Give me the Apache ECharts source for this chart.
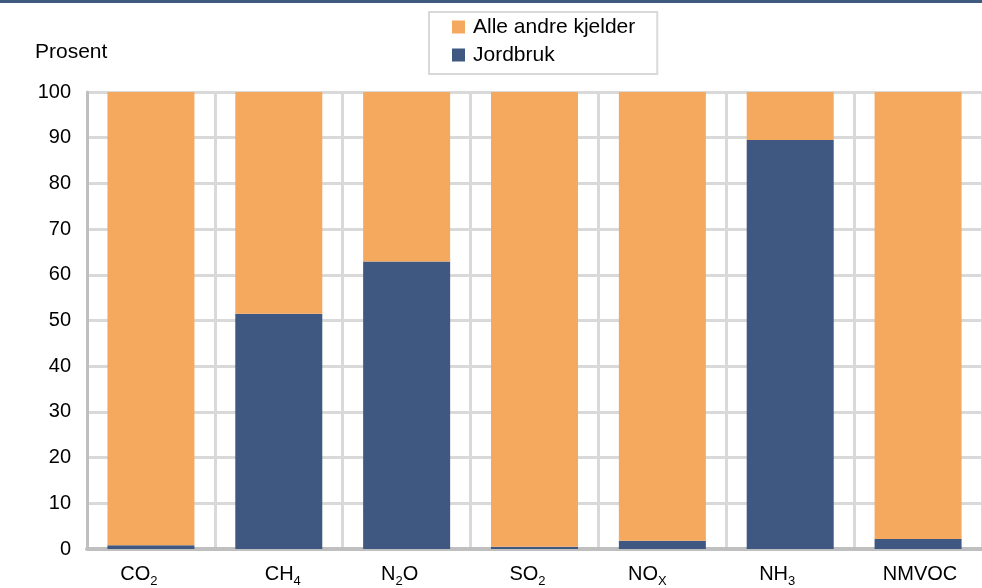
<!DOCTYPE html>
<html>
<head>
<meta charset="utf-8">
<script src="https://cdn.jsdelivr.net/npm/echarts@6/dist/echarts.min.js"></script>
<style>
html,body{margin:0;padding:0;background:#fff;}
#c{width:982px;height:588px;}
</style>
</head>
<body>
<div id="c"></div>
<script>
// ---- data ----
const categories = ['CO_2', 'CH_4', 'N_2O', 'SO_2', 'NO_X', 'NH_3', 'NMVOC'];
const jordbruk = [0.8, 51.5, 62.9, 0.5, 1.8, 89.5, 2.2];
const andreKilder = [99.2, 48.5, 37.1, 99.5, 98.2, 10.5, 97.8];
const seriesNames = ['Alle andre kjelder', 'Jordbruk'];
const yTicks = [0, 100, 10];
const yTitle = 'Prosent';

// ---- styling ----
const FONT = '"Liberation Sans", Arial, sans-serif';
const ORANGE = '#F5A95E';
const BLUE = '#3E5881';
const labelShift = [-12, 4, -7, -7, -15, -13, 2];

const rich = {
  b: { fontSize: 20, fontFamily: FONT, color: '#000' },
  s: { fontSize: 13, fontFamily: FONT, color: '#000', padding: [14, 0, 0, 0] },
  h: { width: 0, height: 27 }
};
labelShift.forEach((d, i) => { rich['p' + i] = { width: Math.abs(d) * 2, height: 1 }; });

function fmt(value, idx) {
  const parts = value.split(/_(.)/);
  let s = '{h|}';
  parts.forEach((p, k) => {
    if (!p) return;
    s += (k % 2 === 1) ? '{s|' + p + '}' : '{b|' + p + '}';
  });
  const d = labelShift[idx] || 0;
  if (d < 0) s = s + '{p' + idx + '|}';
  else if (d > 0) s = '{p' + idx + '|}' + s;
  return s;
}

const chart = echarts.init(document.getElementById('c'), null, { renderer: 'canvas' });
chart.setOption({
  animation: false,
  backgroundColor: '#fff',
  title: {
    text: yTitle, left: 30, top: 37,
    textStyle: { fontFamily: FONT, fontSize: 21, fontWeight: 'normal', color: '#000' }
  },
  graphic: [{ type: 'rect', shape: { x: 0, y: 0, width: 982, height: 3 }, style: { fill: '#3E5A80' }, z: 100 }],
  legend: {
    orient: 'vertical', left: 429, top: 12,
    data: seriesNames,
    itemWidth: 13, itemHeight: 13, itemGap: 6,
    icon: 'rect',
    borderColor: '#d9d9d9', borderWidth: 2,
    padding: [4, 22, 8, 23],
    textStyle: { fontFamily: FONT, fontSize: 21, color: '#000', lineHeight: 22, padding: [0, 0, 0, 3] }
  },
  grid: { left: 87, right: -3, top: 92, bottom: 38, containLabel: false },
  xAxis: {
    type: 'category', data: categories,
    axisLine: { lineStyle: { color: '#bfbfbf', width: 4 } },
    axisTick: { show: false },
    splitLine: { show: true, interval: 0, lineStyle: { color: '#d9d9d9', width: 3 } },
    axisLabel: { interval: 0, margin: 12, formatter: fmt, rich: rich }
  },
  yAxis: {
    type: 'value', min: yTicks[0], max: yTicks[1], interval: yTicks[2],
    axisLine: { show: true, lineStyle: { color: '#bfbfbf', width: 3 } },
    axisTick: { show: false },
    splitLine: { lineStyle: { color: '#d9d9d9', width: 3 } },
    axisLabel: { fontFamily: FONT, fontSize: 20, color: '#000', margin: 16 }
  },
  series: [
    { name: seriesNames[1], type: 'bar', stack: 'a', data: jordbruk, barWidth: 87, itemStyle: { color: BLUE } },
    { name: seriesNames[0], type: 'bar', stack: 'a', data: andreKilder, barWidth: 87, itemStyle: { color: ORANGE } }
  ]
});
</script>
</body>
</html>
